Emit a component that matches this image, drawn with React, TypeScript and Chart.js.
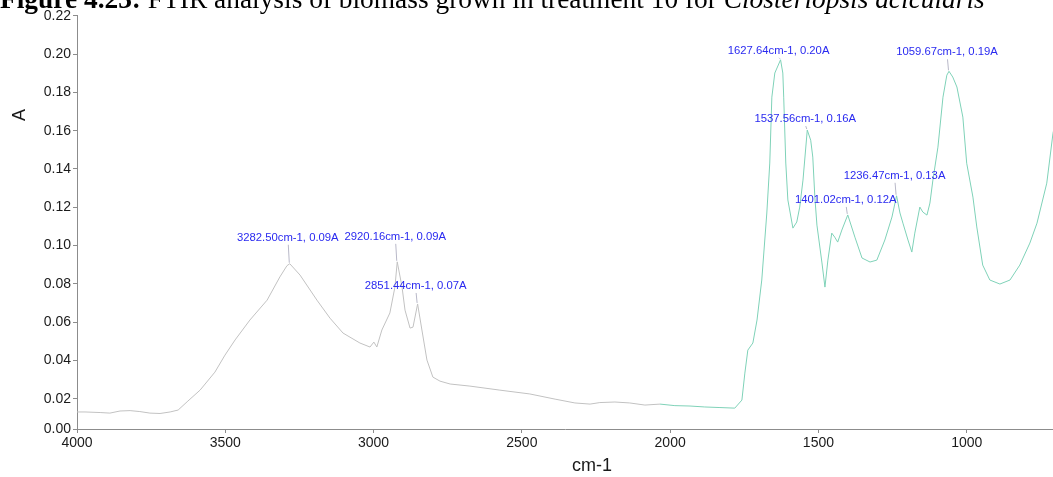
import React, { useEffect, useRef } from "react";
import { Chart, registerables } from "chart.js";

Chart.register(...registerables);

// FTIR spectrum: wavenumber (cm-1) and absorbance (A)
const wavenumbers = [
  4000, 3973, 3922, 3889, 3855, 3821, 3788, 3754, 3720, 3686,
  3659, 3626, 3585, 3535, 3501, 3467, 3417, 3359, 3316, 3292,
  3282.5, 3248, 3191, 3147, 3103, 3046, 3012, 2999, 2989, 2972,
  2945, 2928, 2920.16, 2904, 2894, 2877, 2867, 2851.44, 2837, 2820,
  2800, 2776, 2742, 2675, 2574, 2473, 2388, 2321, 2270, 2237,
  2186, 2136, 2085, 2034, 1984, 1933, 1883, 1832, 1782, 1758,
  1748, 1738, 1721, 1707, 1691, 1674, 1664, 1657, 1647, 1627.64,
  1620, 1617, 1610, 1603, 1586, 1573, 1563, 1552, 1537.56, 1526,
  1519, 1512, 1505, 1488, 1478, 1468, 1455, 1445, 1435, 1421,
  1401.02, 1377, 1353, 1326, 1303, 1276, 1252, 1236.47, 1225, 1215,
  1198, 1185, 1175, 1158, 1148, 1134, 1124, 1114, 1097, 1080,
  1067, 1059.67, 1047, 1033, 1013, 1000, 979, 966, 946, 922,
  888, 854, 821, 787, 763, 730, 709, 700,
];

const absorbance = [
  0.0131, 0.0131, 0.0128, 0.0125, 0.0136, 0.0138, 0.0133, 0.0125, 0.0123, 0.0131,
  0.0141, 0.0188, 0.0245, 0.0339, 0.0428, 0.0507, 0.0611, 0.0715, 0.0836, 0.0895,
  0.0905, 0.0846, 0.0715, 0.0621, 0.0543, 0.0491, 0.047, 0.0496, 0.047, 0.0559,
  0.0648, 0.0783, 0.0915, 0.0783, 0.0663, 0.0569, 0.0574, 0.0695, 0.0559, 0.0402,
  0.0313, 0.0292, 0.0277, 0.0266, 0.0245, 0.0225, 0.0198, 0.0178, 0.0172, 0.018,
  0.0183, 0.0178, 0.0167, 0.0172, 0.0164, 0.0162, 0.0157, 0.0154, 0.0151, 0.0193,
  0.0334, 0.0454, 0.0491, 0.0611, 0.082, 0.117, 0.1431, 0.1775, 0.1901, 0.197,
  0.1901, 0.1775, 0.1431, 0.1238, 0.1091, 0.1123, 0.1201, 0.1342, 0.1603, 0.155,
  0.1462, 0.1253, 0.1107, 0.0909, 0.0783, 0.0924, 0.1065, 0.1044, 0.1018, 0.1081,
  0.116, 0.1044, 0.0935, 0.0914, 0.0924, 0.1029, 0.1149, 0.126, 0.117, 0.1117,
  0.1029, 0.0966, 0.1065, 0.1201, 0.1175, 0.1159, 0.1222, 0.1342, 0.1514, 0.1775,
  0.189, 0.191, 0.188, 0.1828, 0.1671, 0.143, 0.1253, 0.1097, 0.0898, 0.082,
  0.0799, 0.082, 0.0898, 0.1013, 0.1117, 0.1326, 0.1587, 0.165,
];

// Labelled peaks (cm-1)
const peakWavenumbers = [3282.5, 2920.16, 2851.44, 1627.64, 1537.56, 1401.02, 1236.47, 1059.67];

// Axis ticks
const xTicks = [4000, 3500, 3000, 2500, 2000, 1500, 1000];
const yTicks = [0, 0.02, 0.04, 0.06, 0.08, 0.1, 0.12, 0.14, 0.16, 0.18, 0.2, 0.22];

// Vertical lift (px) of each peak label above its peak
const labelLift = [26, 25, 18, 9, 11, 15, 20, 19];

const FONT = '"Liberation Sans", Arial, sans-serif';
const GREY_LINE = "#c2c2c2";
const TEAL_LINE = "#7fd2b8";

const peakLabels = {
  id: "peakLabels",
  afterDatasetsDraw(chart: any) {
    const { ctx, scales } = chart;
    const xs = scales.x;
    const ys = scales.y;
    ctx.save();
    ctx.font = `11.3px ${FONT}`;
    ctx.textAlign = "center";
    ctx.textBaseline = "middle";
    peakWavenumbers.forEach((wn, i) => {
      const idx = wavenumbers.indexOf(wn);
      const a = absorbance[idx];
      const px = xs.getPixelForValue(wn);
      const py = ys.getPixelForValue(a);
      const ty = py - labelLift[i];
      const tx = px - 2;
      ctx.strokeStyle = "#b8b8c8";
      ctx.lineWidth = 1;
      ctx.beginPath();
      ctx.moveTo(px - 1.5, ty + 7);
      ctx.lineTo(px - 0.5, py - 1);
      ctx.stroke();
      ctx.fillStyle = "#2a2af0";
      ctx.fillText(`${wn.toFixed(2)}cm-1, ${a.toFixed(2)}A`, tx, ty);
    });
    ctx.restore();
  },
};

const axisTitles = {
  id: "axisTitles",
  afterDraw(chart: any) {
    const { ctx } = chart;
    ctx.save();
    ctx.fillStyle = "#1a1a1a";
    ctx.font = `18px ${FONT}`;
    ctx.textAlign = "center";
    ctx.textBaseline = "middle";
    ctx.fillText("cm-1", 592, 466);
    ctx.translate(20, 115);
    ctx.rotate(-Math.PI / 2);
    ctx.fillText("A", 0, 0);
    ctx.restore();
  },
};

export default function App() {
  const canvasRef = useRef<HTMLCanvasElement | null>(null);

  useEffect(() => {
    if (!canvasRef.current) return;
    const points = wavenumbers.map((x, i) => ({ x, y: absorbance[i] }));
    const chart = new Chart(canvasRef.current, {
      type: "line",
      data: {
        datasets: [
          {
            data: points,
            borderWidth: 1,
            pointRadius: 0,
            tension: 0,
            borderColor: TEAL_LINE,
            segment: {
              borderColor: (c: any) => (c.p0.parsed.x > 2050 ? GREY_LINE : TEAL_LINE),
            },
          },
        ],
      },
      options: {
        responsive: false,
        animation: false,
        devicePixelRatio: 1,
        layout: { padding: { top: 15, right: 0, left: 0, bottom: 0 } },
        plugins: {
          legend: { display: false },
          tooltip: { enabled: false },
        },
        scales: {
          x: {
            type: "linear",
            reverse: true,
            min: 709,
            max: 4000,
            afterBuildTicks: (s: any) => {
              s.ticks = xTicks.map((v) => ({ value: v }));
            },
            afterFit: (s: any) => {
              s.height = 48;
            },
            border: { color: "#8c8c8c", width: 1 },
            grid: { drawOnChartArea: false, drawTicks: true, tickLength: 4, color: "#8c8c8c" },
            ticks: {
              color: "#1a1a1a",
              font: { family: FONT, size: 14 },
              padding: 2,
              maxRotation: 0,
              callback: (v: any) => String(v),
            },
          },
          y: {
            type: "linear",
            min: 0.0042,
            max: 0.2204,
            afterBuildTicks: (s: any) => {
              s.ticks = yTicks.map((v) => ({ value: Math.max(v, s.min) }));
            },
            afterFit: (s: any) => {
              s.width = 77;
            },
            border: { color: "#8c8c8c", width: 1 },
            grid: { drawOnChartArea: false, drawTicks: true, tickLength: 4, color: "#8c8c8c" },
            ticks: {
              color: "#1a1a1a",
              font: { family: FONT, size: 14 },
              padding: 2,
              callback: (v: any) => Number(v).toFixed(2),
            },
          },
        },
      },
      plugins: [peakLabels, axisTitles],
    });
    return () => chart.destroy();
  }, []);

  return (
    <div
      style={{
        position: "fixed",
        left: 0,
        top: 0,
        width: 1053,
        height: 477,
        overflow: "hidden",
        background: "#fff",
      }}
    >
      <canvas
        ref={canvasRef}
        width={1053}
        height={477}
        style={{ position: "absolute", left: 0, top: 0, width: 1053, height: 477 }}
      />
      <div
        style={{
          position: "absolute",
          left: 0,
          top: -14,
          whiteSpace: "nowrap",
          fontFamily: '"Liberation Serif", "Times New Roman", serif',
          fontSize: 27.4,
          lineHeight: "27px",
          color: "#000",
        }}
      >
        <b>Figure 4.23:</b> FTIR analysis of biomass grown in treatment 10 for{" "}
        <i>Closteriopsis acicularis</i>
      </div>
    </div>
  );
}
